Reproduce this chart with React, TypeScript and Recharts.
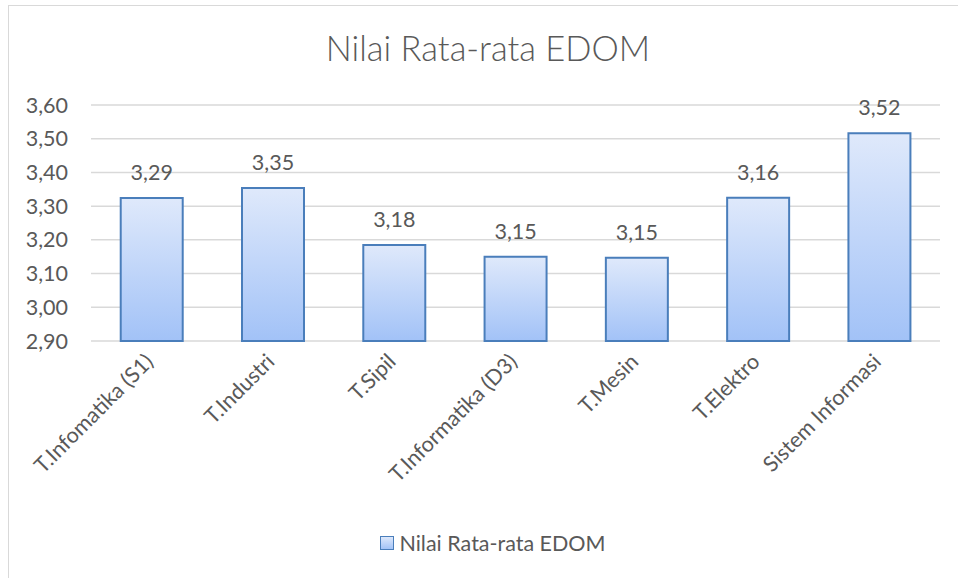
import { BarChart, Bar, XAxis, YAxis, CartesianGrid, LabelList } from "recharts";

const categories = [
  "T.Infomatika (S1)",
  "T.Industri",
  "T.Sipil",
  "T.Informatika (D3)",
  "T.Mesin",
  "T.Elektro",
  "Sistem Informasi",
];
// bar heights as drawn in the picture
const barValues = [3.324, 3.354, 3.185, 3.15, 3.147, 3.325, 3.516];
// data labels as printed above each bar
const labelValues = [3.29, 3.35, 3.18, 3.15, 3.15, 3.16, 3.52];
const yTicks = [2.9, 3.0, 3.1, 3.2, 3.3, 3.4, 3.5, 3.6];

const seriesName = "Nilai Rata-rata EDOM";

const data = categories.map((name, i) => ({
  name,
  value: barValues[i],
  label: labelValues[i],
}));

const FONT = "Lato, 'Open Sans', sans-serif";
const TEXT = "#595959";
const SMALL = 21.5;

const comma = (v: number) => v.toFixed(2).replace(".", ",");

function XTick(props: any) {
  const { x, y, payload } = props;
  return (
    <g transform={`translate(${x + 3},${y + 14})`}>
      <text
        x={0}
        y={0}
        textAnchor="end"
        transform="rotate(-45)"
        fill={TEXT}
        fontSize={SMALL}
        fontFamily={FONT}
      >
        {payload.value}
      </text>
    </g>
  );
}

export default function App() {
  return (
    <div style={{ position: "absolute", left: 0, top: 0, width: 958, height: 578, background: "#fff", overflow: "hidden" }}>
      <svg width={0} height={0} style={{ position: "absolute" }}>
        <defs>
          <linearGradient id="barFill" x1="0" y1="0" x2="0" y2="1">
            <stop offset="0%" stopColor="#dfe9fb" />
            <stop offset="100%" stopColor="#a2c2f7" />
          </linearGradient>
        </defs>
      </svg>
      <div
        style={{
          position: "absolute",
          left: 8,
          top: 5,
          width: 970,
          height: 590,
          border: "1px solid #d9d9d9",
          boxSizing: "border-box",
        }}
      />
      <div
        style={{
          position: "absolute",
          left: 0,
          top: 27,
          width: 976,
          textAlign: "center",
          fontFamily: FONT,
          fontSize: 34.5,
          fontWeight: 300,
          color: TEXT,
        }}
      >
        {seriesName}
      </div>
      <div style={{ position: "absolute", left: 0, top: 0 }}>
        <BarChart
          width={958}
          height={578}
          data={data}
          margin={{ top: 105, right: 18, bottom: 0, left: 0 }}
          barCategoryGap="24.5%"
        >
          <CartesianGrid vertical={false} stroke="#d9d9d9" strokeWidth={1.5} />
          <XAxis
            dataKey="name"
            interval={0}
            axisLine={false}
            tickLine={false}
            tick={<XTick />}
            height={237}
          />
          <YAxis
            domain={[2.9, 3.6]}
            ticks={yTicks}
            tickFormatter={comma}
            axisLine={false}
            tickLine={false}
            tickSize={0}
            tickMargin={23}
            width={91}
            tick={{ fill: TEXT, fontSize: SMALL, fontFamily: FONT }}
          />
          <Bar
            dataKey="value"
            name={seriesName}
            fill="url(#barFill)"
            stroke="#4a7ebb"
            strokeWidth={2}
            isAnimationActive={false}
          >
            <LabelList
              dataKey="label"
              position="top"
              offset={18}
              formatter={(v: any) => comma(Number(v))}
              fill={TEXT}
              fontSize={SMALL}
              fontFamily={FONT}
            />
          </Bar>
        </BarChart>
      </div>
      <div
        style={{
          position: "absolute",
          left: 0,
          top: 530,
          width: 986,
          display: "flex",
          alignItems: "center",
          justifyContent: "center",
          fontFamily: FONT,
          fontSize: SMALL,
          color: TEXT,
        }}
      >
        <span
          style={{
            display: "inline-block",
            width: 12,
            height: 12,
            border: "1px solid #4a7ebb",
            background: "linear-gradient(#dde8fb, #a3c3f7)",
            marginRight: 5,
          }}
        />
        {seriesName}
      </div>
    </div>
  );
}
